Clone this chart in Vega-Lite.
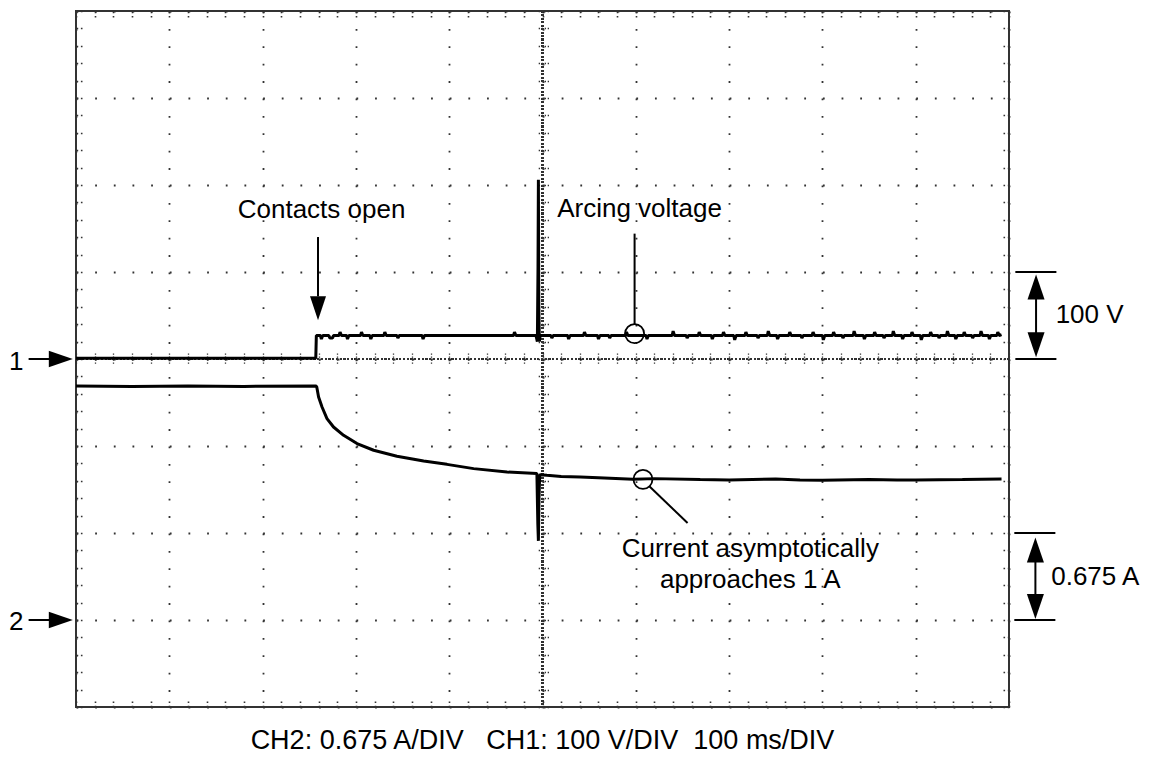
{
  "$schema": "https://vega.github.io/schema/vega-lite/v6.json",
  "width": 933,
  "height": 696,
  "autosize": {"type": "none"},
  "padding": {"left": 76, "top": 11, "right": 142, "bottom": 51},
  "background": "white",
  "config": {
    "view": {"stroke": "#333333", "strokeWidth": 2},
    "font": "Liberation Sans",
    "axis": {"labels": false, "domain": false, "ticks": false, "grid": false}
  },
  "title": {
    "text": "CH2: 0.675 A/DIV\u00a0\u00a0\u00a0CH1: 100 V/DIV\u00a0\u00a0100 ms/DIV",
    "orient": "bottom",
    "anchor": "middle",
    "font": "Liberation Sans",
    "fontSize": 27,
    "fontWeight": "normal",
    "color": "black",
    "offset": 20
  },
  "datasets": {
    "ch1": [
      {"t": 0, "div": 0.01}, {"t": 100, "div": 0.01}, {"t": 200, "div": 0.01}, {"t": 257, "div": 0.01},
      {"t": 257.6, "div": 0.27},
      {"t": 262, "div": 0.27}, {"t": 263, "div": 0.23}, {"t": 264.5, "div": 0.27},
      {"t": 271, "div": 0.27}, {"t": 272, "div": 0.24}, {"t": 275, "div": 0.24}, {"t": 276, "div": 0.27},
      {"t": 282, "div": 0.27}, {"t": 283, "div": 0.31}, {"t": 284.5, "div": 0.27},
      {"t": 290, "div": 0.27}, {"t": 291, "div": 0.23}, {"t": 292.5, "div": 0.27},
      {"t": 305, "div": 0.27}, {"t": 306, "div": 0.31}, {"t": 307.5, "div": 0.27},
      {"t": 315, "div": 0.27}, {"t": 316, "div": 0.23}, {"t": 317.5, "div": 0.27},
      {"t": 330, "div": 0.27}, {"t": 331, "div": 0.31}, {"t": 332.5, "div": 0.27},
      {"t": 344, "div": 0.27}, {"t": 345, "div": 0.24}, {"t": 346.5, "div": 0.27},
      {"t": 371, "div": 0.27}, {"t": 372, "div": 0.23}, {"t": 373.5, "div": 0.27},
      {"t": 420, "div": 0.27}, {"t": 469, "div": 0.27}, {"t": 470, "div": 0.31}, {"t": 471.5, "div": 0.27},
      {"t": 493, "div": 0.27}, {"t": 494.5, "div": 0.2},
      {"t": 495.2, "div": 1.07}, {"t": 495.6, "div": 2.06}, {"t": 496.0, "div": 0.62}, {"t": 496.6, "div": 0.2},
      {"t": 497.5, "div": 0.27},
      {"t": 509, "div": 0.27}, {"t": 510, "div": 0.24}, {"t": 511.5, "div": 0.27},
      {"t": 527, "div": 0.27}, {"t": 528, "div": 0.23}, {"t": 529.5, "div": 0.27},
      {"t": 544, "div": 0.27}, {"t": 545, "div": 0.31}, {"t": 546.5, "div": 0.27},
      {"t": 559, "div": 0.27}, {"t": 560, "div": 0.23}, {"t": 561.5, "div": 0.27},
      {"t": 571, "div": 0.27}, {"t": 572, "div": 0.24}, {"t": 573.5, "div": 0.27},
      {"t": 589, "div": 0.27}, {"t": 590, "div": 0.31}, {"t": 591.5, "div": 0.27},
      {"t": 611, "div": 0.27}, {"t": 612, "div": 0.23}, {"t": 613.5, "div": 0.27},
      {"t": 639, "div": 0.27}, {"t": 640, "div": 0.32}, {"t": 641.5, "div": 0.27},
      {"t": 654, "div": 0.27}, {"t": 655, "div": 0.24}, {"t": 656.5, "div": 0.27},
      {"t": 667, "div": 0.27}, {"t": 668, "div": 0.31}, {"t": 669.5, "div": 0.27},
      {"t": 681, "div": 0.27}, {"t": 682, "div": 0.23}, {"t": 683.5, "div": 0.27},
      {"t": 693, "div": 0.27}, {"t": 694, "div": 0.31}, {"t": 695.5, "div": 0.27},
      {"t": 705, "div": 0.27}, {"t": 706, "div": 0.22}, {"t": 707.5, "div": 0.27},
      {"t": 717, "div": 0.27}, {"t": 718, "div": 0.31}, {"t": 719.5, "div": 0.27},
      {"t": 730, "div": 0.27}, {"t": 731, "div": 0.24}, {"t": 732.5, "div": 0.27},
      {"t": 741, "div": 0.27}, {"t": 742, "div": 0.32}, {"t": 743.5, "div": 0.27},
      {"t": 751, "div": 0.27}, {"t": 752, "div": 0.23}, {"t": 753.5, "div": 0.27},
      {"t": 764, "div": 0.27}, {"t": 765, "div": 0.31}, {"t": 766.5, "div": 0.27},
      {"t": 777, "div": 0.27}, {"t": 778, "div": 0.24}, {"t": 779.5, "div": 0.27},
      {"t": 789, "div": 0.27}, {"t": 790, "div": 0.31}, {"t": 791.5, "div": 0.27},
      {"t": 800, "div": 0.27}, {"t": 801, "div": 0.22}, {"t": 802.5, "div": 0.27},
      {"t": 811, "div": 0.27}, {"t": 812, "div": 0.31}, {"t": 813.5, "div": 0.27},
      {"t": 821, "div": 0.27}, {"t": 822, "div": 0.24}, {"t": 823.5, "div": 0.27},
      {"t": 833, "div": 0.27}, {"t": 834, "div": 0.32}, {"t": 835.5, "div": 0.27},
      {"t": 844, "div": 0.27}, {"t": 845, "div": 0.23}, {"t": 846.5, "div": 0.27},
      {"t": 855, "div": 0.27}, {"t": 856, "div": 0.31}, {"t": 857.5, "div": 0.27},
      {"t": 865, "div": 0.27}, {"t": 866, "div": 0.24}, {"t": 867.5, "div": 0.27},
      {"t": 875, "div": 0.27}, {"t": 876, "div": 0.32}, {"t": 877.5, "div": 0.27},
      {"t": 885, "div": 0.27}, {"t": 886, "div": 0.23}, {"t": 887.5, "div": 0.27},
      {"t": 895, "div": 0.27}, {"t": 896, "div": 0.31}, {"t": 897.5, "div": 0.27},
      {"t": 905, "div": 0.27}, {"t": 906, "div": 0.22}, {"t": 907.5, "div": 0.27},
      {"t": 915, "div": 0.27}, {"t": 916, "div": 0.31}, {"t": 917.5, "div": 0.27},
      {"t": 924, "div": 0.27}, {"t": 925, "div": 0.24}, {"t": 926.5, "div": 0.27},
      {"t": 933, "div": 0.27}, {"t": 934, "div": 0.32}, {"t": 935.5, "div": 0.27},
      {"t": 942, "div": 0.27}, {"t": 943, "div": 0.23}, {"t": 944.5, "div": 0.27},
      {"t": 951, "div": 0.27}, {"t": 952, "div": 0.31}, {"t": 953.5, "div": 0.27},
      {"t": 960, "div": 0.27}, {"t": 961, "div": 0.24}, {"t": 962.5, "div": 0.27},
      {"t": 969, "div": 0.27}, {"t": 970, "div": 0.32}, {"t": 971.5, "div": 0.27},
      {"t": 978, "div": 0.27}, {"t": 979, "div": 0.23}, {"t": 980.5, "div": 0.27},
      {"t": 987, "div": 0.27}, {"t": 988, "div": 0.31}, {"t": 989.5, "div": 0.27},
      {"t": 992, "div": 0.28}
    ],
    "ch2": [
      {"t": 0, "div": -0.31}, {"t": 60, "div": -0.315}, {"t": 120, "div": -0.31}, {"t": 180, "div": -0.315},
      {"t": 257, "div": -0.31}, {"t": 258, "div": -0.32}, {"t": 260, "div": -0.437}, {"t": 263.7, "div": -0.552},
      {"t": 269, "div": -0.685}, {"t": 276, "div": -0.782}, {"t": 286.8, "div": -0.877}, {"t": 301.2, "div": -0.972},
      {"t": 319, "div": -1.049}, {"t": 344, "div": -1.118}, {"t": 372.6, "div": -1.172}, {"t": 397.6, "div": -1.211},
      {"t": 426.2, "div": -1.26}, {"t": 462, "div": -1.299}, {"t": 494, "div": -1.317}, {"t": 495, "div": -1.9},
      {"t": 495.6, "div": -2.09}, {"t": 496.2, "div": -1.6}, {"t": 497, "div": -1.33}, {"t": 504.8, "div": -1.337},
      {"t": 520, "div": -1.35}, {"t": 540.5, "div": -1.356}, {"t": 560, "div": -1.365}, {"t": 597, "div": -1.383},
      {"t": 620, "div": -1.375}, {"t": 669, "div": -1.385}, {"t": 700, "div": -1.39}, {"t": 750, "div": -1.38},
      {"t": 776, "div": -1.39}, {"t": 800, "div": -1.395}, {"t": 850, "div": -1.385}, {"t": 880, "div": -1.39},
      {"t": 900, "div": -1.39}, {"t": 950, "div": -1.385}, {"t": 992, "div": -1.38}
    ],
    "circles": [
      {"t": 598.7, "div": 0.292},
      {"t": 607.7, "div": -1.383}
    ],
    "labels": [
      {"label": "Contacts open", "t": 263.2, "div": 1.617},
      {"label": "Arcing voltage", "t": 604, "div": 1.63},
      {"label": "Current asymptotically\napproaches 1 A", "t": 722.7, "div": -2.276},
      {"label": "100 V", "t": 1086.4, "div": 0.414},
      {"label": "0.675 A", "t": 1092.5, "div": -2.6},
      {"label": "1", "t": -64, "div": -0.122},
      {"label": "2", "t": -64, "div": -3.118}
    ],
    "segments": [
      {"t": 259.4, "div": 1.402, "t2": 259.4, "div2": 0.72},
      {"t": 598.7, "div": 1.441, "t2": 598.7, "div2": 0.399},
      {"t": 614.5, "div": -1.463, "t2": 655.5, "div2": -1.885},
      {"t": 1006.8, "div": 1, "t2": 1050.8, "div2": 1},
      {"t": 1006.8, "div": 0, "t2": 1050.8, "div2": 0},
      {"t": 1029, "div": 0.8, "t2": 1029, "div2": 0.2},
      {"t": 1005.7, "div": -2, "t2": 1049.7, "div2": -2},
      {"t": 1005.7, "div": -3, "t2": 1049.7, "div2": -3},
      {"t": 1028.3, "div": -2.2, "t2": 1028.3, "div2": -2.8},
      {"t": -50.8, "div": 0, "t2": -27.5, "div2": 0},
      {"t": -50.8, "div": -3, "t2": -27.5, "div2": -3}
    ],
    "arrows": [
      {"dir": "down", "t": 259.4, "div": 0.583},
      {"dir": "dimup", "t": 1029, "div": 0.828},
      {"dir": "dimdown", "t": 1029, "div": 0.163},
      {"dir": "dimup", "t": 1028.3, "div": -2.195},
      {"dir": "dimdown", "t": 1028.3, "div": -2.845},
      {"dir": "right", "t": -16.3, "div": 0},
      {"dir": "right", "t": -16.3, "div": -3}
    ]
  },
  "resolve": {"axis": {"x": "independent", "y": "independent"}},
  "layer": [
    {
      "data": {"name": "ch1"},
      "mark": {"type": "rule", "color": "#333333", "strokeWidth": 1.4, "strokeDash": [1.3, 2.18]},
      "encoding": {
        "x": {"datum": 500, "type": "quantitative", "scale": {"domain": [0, 1000], "nice": false, "zero": false}, "axis": null}
      }
    },
    {
      "data": {"name": "ch1"},
      "mark": {"type": "rule", "color": "#333333", "strokeWidth": 1.4, "strokeDash": [1.3, 2.43]},
      "encoding": {
        "y": {"datum": 0, "type": "quantitative", "scale": {"domain": [-4, 4], "nice": false, "zero": false}, "axis": null}
      }
    },
    {
      "data": {"name": "ch1"},
      "mark": {"type": "line", "color": "black", "strokeWidth": 3, "strokeJoin": "bevel"},
      "encoding": {
        "x": {"field": "t", "type": "quantitative", "scale": {"domain": [0, 1000], "nice": false, "zero": false},
          "axis": {"orient": "bottom", "title": null, "values": [0, 100, 200, 300, 400, 500, 600, 700, 800, 900, 1000], "grid": true, "gridColor": "#333333", "gridOpacity": 1, "gridWidth": 1.8, "gridDash": [1.8, 15.6], "ticks": false, "labels": false, "domain": false}},
        "y": {"field": "div", "type": "quantitative", "scale": {"domain": [-4, 4], "nice": false, "zero": false},
          "axis": {"orient": "left", "title": null, "values": [-4, -3, -2, -1, 0, 1, 2, 3, 4], "grid": true, "gridColor": "#333333", "gridOpacity": 1, "gridWidth": 1.8, "gridDash": [1.8, 16.86], "ticks": false, "labels": false, "domain": false}}
      }
    },
    {
      "data": {"name": "ch2"},
      "mark": {"type": "line", "color": "black", "strokeWidth": 3, "strokeJoin": "bevel"},
      "encoding": {
        "x": {"field": "t", "type": "quantitative", "scale": {"domain": [0, 1000], "nice": false, "zero": false},
          "axis": {"orient": "bottom", "title": null, "offset": -6, "values": [0,20,40,60,80,100,120,140,160,180,200,220,240,260,280,300,320,340,360,380,400,420,440,460,480,500,520,540,560,580,600,620,640,660,680,700,720,740,760,780,800,820,840,860,880,900,920,940,960,980,1000], "ticks": true, "tickSize": 6, "tickWidth": 1.6, "tickColor": "#333333", "tickDash": [1.6, 2.7], "grid": false, "labels": false, "domain": false}},
        "y": {"field": "div", "type": "quantitative", "scale": {"domain": [-4, 4], "nice": false, "zero": false},
          "axis": {"orient": "left", "title": null, "offset": -6, "values": [-4,-3.8,-3.6,-3.4,-3.2,-3,-2.8,-2.6,-2.4,-2.2,-2,-1.8,-1.6,-1.4,-1.2,-1,-0.8,-0.6,-0.4,-0.2,0,0.2,0.4,0.6,0.8,1,1.2,1.4,1.6,1.8,2,2.2,2.4,2.6,2.8,3,3.2,3.4,3.6,3.8,4], "ticks": true, "tickSize": 6, "tickWidth": 1.6, "tickColor": "#333333", "tickDash": [1.6, 2.7], "grid": false, "labels": false, "domain": false}}
      }
    },
    {
      "data": {"name": "circles"},
      "mark": {"type": "point", "shape": "circle", "filled": false, "color": "black", "strokeWidth": 1.8, "size": 361, "opacity": 1},
      "encoding": {
        "x": {"field": "t", "type": "quantitative", "scale": {"domain": [0, 1000], "nice": false, "zero": false},
          "axis": {"orient": "top", "title": null, "offset": -6, "values": [0,20,40,60,80,100,120,140,160,180,200,220,240,260,280,300,320,340,360,380,400,420,440,460,480,500,520,540,560,580,600,620,640,660,680,700,720,740,760,780,800,820,840,860,880,900,920,940,960,980,1000], "ticks": true, "tickSize": 6, "tickWidth": 1.6, "tickColor": "#333333", "tickDash": [1.6, 2.7], "grid": false, "labels": false, "domain": false}},
        "y": {"field": "div", "type": "quantitative", "scale": {"domain": [-4, 4], "nice": false, "zero": false},
          "axis": {"orient": "right", "title": null, "offset": -6, "values": [-4,-3.8,-3.6,-3.4,-3.2,-3,-2.8,-2.6,-2.4,-2.2,-2,-1.8,-1.6,-1.4,-1.2,-1,-0.8,-0.6,-0.4,-0.2,0,0.2,0.4,0.6,0.8,1,1.2,1.4,1.6,1.8,2,2.2,2.4,2.6,2.8,3,3.2,3.4,3.6,3.8,4], "ticks": true, "tickSize": 6, "tickWidth": 1.6, "tickColor": "#333333", "tickDash": [1.6, 2.7], "grid": false, "labels": false, "domain": false}}
      }
    },
    {
      "data": {"name": "labels"},
      "mark": {"type": "text", "font": "Liberation Sans", "fontSize": 26, "color": "black", "align": "center", "baseline": "alphabetic", "lineBreak": "\n", "lineHeight": 31},
      "encoding": {
        "x": {"field": "t", "type": "quantitative", "scale": {"domain": [0, 1000], "nice": false, "zero": false},
          "axis": {"orient": "bottom", "title": null, "offset": -354, "values": [0,20,40,60,80,100,120,140,160,180,200,220,240,260,280,300,320,340,360,380,400,420,440,460,480,500,520,540,560,580,600,620,640,660,680,700,720,740,760,780,800,820,840,860,880,900,920,940,960,980,1000], "ticks": true, "tickSize": 12, "tickWidth": 1.3, "tickColor": "#333333", "tickDash": [1.3, 1.7], "grid": false, "labels": false, "domain": false}},
        "y": {"field": "div", "type": "quantitative", "scale": {"domain": [-4, 4], "nice": false, "zero": false},
          "axis": {"orient": "left", "title": null, "offset": -472.5, "values": [-4,-3.8,-3.6,-3.4,-3.2,-3,-2.8,-2.6,-2.4,-2.2,-2,-1.8,-1.6,-1.4,-1.2,-1,-0.8,-0.6,-0.4,-0.2,0,0.2,0.4,0.6,0.8,1,1.2,1.4,1.6,1.8,2,2.2,2.4,2.6,2.8,3,3.2,3.4,3.6,3.8,4], "ticks": true, "tickSize": 12, "tickWidth": 1.3, "tickColor": "#333333", "tickDash": [1.3, 1.7], "grid": false, "labels": false, "domain": false}},
        "text": {"field": "label", "type": "nominal"}
      }
    },
    {
      "data": {"name": "segments"},
      "mark": {"type": "rule", "color": "black", "strokeWidth": 2},
      "encoding": {
        "x": {"field": "t", "type": "quantitative", "scale": {"domain": [0, 1000], "nice": false, "zero": false}, "axis": null},
        "y": {"field": "div", "type": "quantitative", "scale": {"domain": [-4, 4], "nice": false, "zero": false}, "axis": null},
        "x2": {"field": "t2"},
        "y2": {"field": "div2"}
      }
    },
    {
      "data": {"name": "arrows"},
      "mark": {"type": "point", "filled": true, "color": "black", "opacity": 1, "strokeWidth": 0, "size": 576},
      "encoding": {
        "x": {"field": "t", "type": "quantitative", "scale": {"domain": [0, 1000], "nice": false, "zero": false}, "axis": null},
        "y": {"field": "div", "type": "quantitative", "scale": {"domain": [-4, 4], "nice": false, "zero": false}, "axis": null},
        "shape": {"field": "dir", "type": "nominal", "legend": null,
          "scale": {"domain": ["down", "dimup", "dimdown", "right"],
            "range": ["M-0.667,-1L0.667,-1L0,1Z", "M0,-1.04L0.71,1.04L-0.71,1.04Z", "M-0.71,-1.04L0.71,-1.04L0,1.04Z", "M-1,-0.69L1,0L-1,0.69Z"]}}
      }
    }
  ]
}
